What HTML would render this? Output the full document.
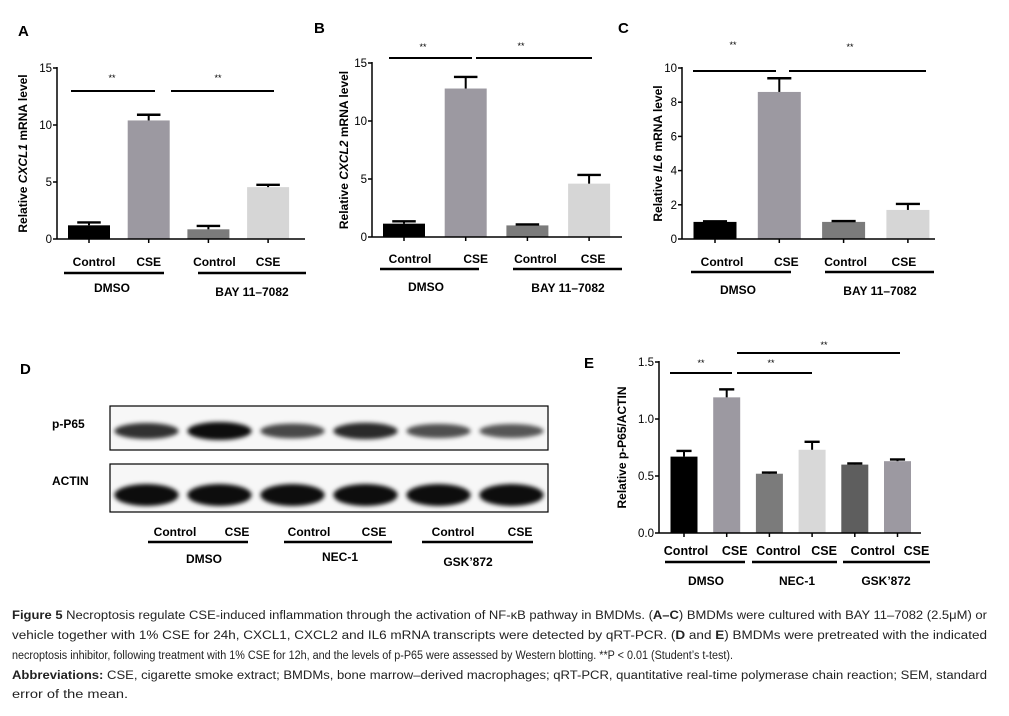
<!DOCTYPE html>
<html><head><meta charset="utf-8"><style>
html,body{margin:0;padding:0;background:#fff;}
svg{display:block;font-family:"Liberation Sans",Arial,sans-serif;}
</style></head><body>
<svg id="fig" width="1009" height="716" viewBox="0 0 1009 716" xmlns="http://www.w3.org/2000/svg">
<defs><filter id="blur" x="-20%" y="-50%" width="140%" height="200%"><feGaussianBlur stdDeviation="2.2"/></filter></defs>
<g id="root"></g>
</svg>
<script>
// ---- data ----
const groupLabels = ["Control","CSE","Control","CSE"];
const cxcl1Values = [1.2, 10.4, 0.85, 4.55];
const cxcl1Errors = [0.25, 0.5, 0.3, 0.2];
const cxcl1Ticks = [0, 5, 10, 15];
const cxcl2Values = [1.15, 12.8, 1.0, 4.6];
const cxcl2Errors = [0.2, 1.0, 0.08, 0.75];
const cxcl2Ticks = [0, 5, 10, 15];
const il6Values = [1.0, 8.6, 1.0, 1.7];
const il6Errors = [0.03, 0.8, 0.05, 0.35];
const il6Ticks = [0, 2, 4, 6, 8, 10];
const p65Categories = ["Control","CSE","Control","CSE","Control","CSE"];
const p65Values = [0.67, 1.19, 0.52, 0.73, 0.60, 0.63];
const p65Errors = [0.05, 0.07, 0.01, 0.07, 0.01, 0.015];
const p65Ticks = [0.0, 0.5, 1.0, 1.5];
const blotP65Intensity = [0.75, 1.0, 0.6, 0.8, 0.55, 0.5];
const blotActinIntensity = [1, 1, 1, 1, 1, 1];

const NS = "http://www.w3.org/2000/svg";
const root = document.getElementById('root');
function mk(tag, attrs, parent, text){
  const e = document.createElementNS(NS, tag);
  for (const k in attrs) e.setAttribute(k, attrs[k]);
  if (text !== undefined) e.textContent = text;
  (parent||root).appendChild(e);
  return e;
}
function line(x1,y1,x2,y2,w,name,p){
  const l = mk('line',{x1,y1,x2,y2,stroke:'#000','stroke-width':w||2},p);
  
  
  return l;
}
function txt(x,y,s,opt,name,p){
  const t = mk('text',Object.assign({x,y,'font-size':12,'font-weight':'bold','text-anchor':'middle',fill:'#000'},opt||{}),p,s);
  
  
  return t;
}

function panel(c){
  const g = mk('g',{});
  
  
  const yS = v => c.y0 - (v - c.ticks[0])/(c.ticks[c.ticks.length-1]-c.ticks[0])*(c.y0-c.yTop);
  const xS = i => c.cx0 + i*c.step;
  c.values.forEach((v,i)=>{
    const r = mk('rect',{x:xS(i)-c.bw/2,y:yS(v),width:c.bw,height:c.y0-yS(v),fill:c.colors[i]},g);
    
    
    const top = yS(v+c.errors[i]);
    line(xS(i),yS(v),xS(i),top,2,'error-bar-'+(i+1),g);
    line(xS(i)-c.bw*0.28,top,xS(i)+c.bw*0.28,top,2.4,'error-cap-'+(i+1),g);
    line(xS(i),c.y0,xS(i),c.y0+4,1.5,'x-tick-'+(i+1),g);
  });
  line(c.ax,c.yTop-1,c.ax,c.y0,1.5,'y-axis',g);
  line(c.ax,c.y0,c.axEnd,c.y0,1.5,'x-axis',g);
  c.ticks.forEach(t=>{
    line(c.ax-4,yS(t),c.ax,yS(t),1.5,'y-tick',g);
    txt(c.ax-5,yS(t)+4,c.tickFmt?c.tickFmt(t):String(t),{'text-anchor':'end','font-weight':'normal','font-size':11.5},'y-tick-label',g);
  });
  const yt = mk('text',{x:0,y:0,'font-size':12,'font-weight':'bold','text-anchor':'middle',transform:`translate(${c.ylx},${(c.y0+c.yTop)/2}) rotate(-90)`},g);
  
  
  c.ytitle.forEach(p=>{mk('tspan',p[1]?{'font-style':'italic'}:{},yt,p[0]);});
  c.cats.forEach((s,i)=>txt(xS(i)+(c.labOff?c.labOff[i]:0),c.labY,s,{'font-size':c.labFs||12},'x-label-'+(i+1),g));
  c.groups.forEach(gr=>{
    line(gr[0],c.ulY,gr[1],c.ulY,2.5,'group-underline',g);
    txt(gr[2],gr[3],gr[4],{},'group-label',g);
  });
  c.sig.forEach(s=>{
    line(s[0],s[2],s[1],s[2],2,'significance-bar',g);
    txt(s[3],s[4],'**',{'font-size':9,'font-weight':'normal'},'significance-marker',g);
  });
  txt(c.letter[0],c.letter[1],c.letter[2],{'font-size':15,'text-anchor':'start'},'panel-label-'+c.letter[2].toLowerCase(),g);
}

const colsA = ['#000','#9c99a1','#7b7b7b','#d6d6d6'];
panel({name:'panel-a-cxcl1',values:cxcl1Values,errors:cxcl1Errors,ticks:cxcl1Ticks,colors:colsA,
  y0:239,yTop:68,ax:57,axEnd:305,cx0:89,step:59.7,bw:42,ylx:27,ytitle:[['Relative '],['CXCL1',1],[' mRNA level']],
  cats:groupLabels,labY:266,labOff:[5,0,6,0],ulY:273,groups:[[64,164,112,292,'DMSO'],[198,306,252,296,'BAY 11–7082']],
  sig:[[71,155,91,112,81],[171,274,91,218,81]],letter:[18,36,'A']});
panel({name:'panel-b-cxcl2',values:cxcl2Values,errors:cxcl2Errors,ticks:cxcl2Ticks,colors:colsA,
  y0:237,yTop:63,ax:372,axEnd:622,cx0:404,step:61.7,bw:42,ylx:348,ytitle:[['Relative '],['CXCL2',1],[' mRNA level']],
  cats:groupLabels,labY:263,labOff:[6,10,8,4],ulY:269,groups:[[380,479,426,291,'DMSO'],[513,622,568,292,'BAY 11–7082']],
  sig:[[389,472,58,423,50],[476,592,58,521,49]],letter:[314,33,'B']});
panel({name:'panel-c-il6',values:il6Values,errors:il6Errors,ticks:il6Ticks,colors:colsA,
  y0:239,yTop:68,ax:682,axEnd:935,cx0:715,step:64.3,bw:43,ylx:662,ytitle:[['Relative '],['IL6',1],[' mRNA level']],
  cats:groupLabels,labY:266,labOff:[7,7,2,-4],ulY:272,groups:[[691,791,738,294,'DMSO'],[825,934,880,295,'BAY 11–7082']],
  sig:[[693,776,71,733,48],[789,926,71,850,50]],letter:[618,33,'C']});
panel({name:'panel-e-p65-quant',values:p65Values,errors:p65Errors,ticks:p65Ticks,colors:['#000','#9c99a1','#7b7b7b','#d8d8d8','#5e5e5e','#9c99a1'],
  y0:533,yTop:362,ax:659,axEnd:921,cx0:684,step:42.7,bw:27,ylx:626,ytitle:[['Relative p-P65/ACTIN']],tickFmt:t=>t.toFixed(1),
  cats:p65Categories,labY:555,labOff:[2,8,9,12,18,19],labFs:12.5,ulY:562,groups:[[665,745,706,585,'DMSO'],[752,837,797,585,'NEC-1'],[843,930,886,585,'GSK’872']],
  sig:[[670,732,373,701,366],[737,812,373,771,366],[737,900,353,824,348]],letter:[584,368,'E']});

// ---- Panel D western blot ----
const gd = mk('g',{});


txt(20,374,'D',{'font-size':15,'text-anchor':'start'},'panel-label-d',gd);
txt(52,428,'p-P65',{'text-anchor':'start'},'p65-row-label',gd);
txt(52,485,'ACTIN',{'text-anchor':'start'},'actin-row-label',gd);
const bx0 = 110, bx1 = 548, laneStep = (bx1-bx0)/6;
[[406,450,blotP65Intensity,431,9,'p65'],[464,512,blotActinIntensity,495,11,'actin']].forEach(r=>{
  const b = mk('rect',{x:bx0,y:r[0],width:bx1-bx0,height:r[1]-r[0],fill:'#f7f7f7',stroke:'#000','stroke-width':1.2},gd);
  
  
  r[2].forEach((v,i)=>{
    const e = mk('ellipse',{cx:bx0+laneStep*(i+0.5),cy:r[3],rx:laneStep*0.44,ry:r[4]*(0.55+0.45*v),fill:'#000','fill-opacity':0.35+0.6*v,filter:'url(#blur)'},gd);
    
    
  });
});
[['Control',175],['CSE',237],['Control',309],['CSE',374],['Control',453],['CSE',520]].forEach((l,i)=>txt(l[1],536,l[0],{},'blot-lane-label-'+(i+1),gd));
[[148,248,204,563,'DMSO'],[284,392,340,561,'NEC-1'],[422,533,468,566,'GSK’872']].forEach(gr=>{
  line(gr[0],542,gr[1],542,2.5,'blot-group-underline',gd);
  txt(gr[2],gr[3],gr[4],{},'blot-group-label',gd);
});

// ---- caption ----
const cap = mk('g',{'font-size':11.5});


const capLines = [
 [619, [['Figure 5',1],[' Necroptosis regulate CSE-induced inflammation through the activation of NF-κB pathway in BMDMs. ('],['A–C',1],[') BMDMs were cultured with BAY 11–7082 (2.5μM) or']], 987, 11.5],
 [639, [['vehicle together with 1% CSE for 24h, CXCL1, CXCL2 and IL6 mRNA transcripts were detected by qRT-PCR. ('],['D',1],[' and '],['E',1],[') BMDMs were pretreated with the indicated']], 987, 11.5],
 [659, [['necroptosis inhibitor, following treatment with 1% CSE for 12h, and the levels of p-P65 were assessed by Western blotting. **P < 0.01 (Student’s t-test).']], 733, 11.5],
 [679, [['Abbreviations:',1],[' CSE, cigarette smoke extract; BMDMs, bone marrow–derived macrophages; qRT-PCR, quantitative real-time polymerase chain reaction; SEM, standard']], 987, 11.5],
 [698, [['error of the mean.']], 128, 11.5]
];
capLines.forEach((L,i)=>{
  const t = mk('text',{x:12,y:L[0],textLength:L[2]-12,lengthAdjust:'spacingAndGlyphs',fill:'#222','font-size':L[3]},cap);
  
  
  L[1].forEach(p=>mk('tspan',p[1]?{'font-weight':'bold'}:{},t,p[0]));
});
</script>
</body></html>
